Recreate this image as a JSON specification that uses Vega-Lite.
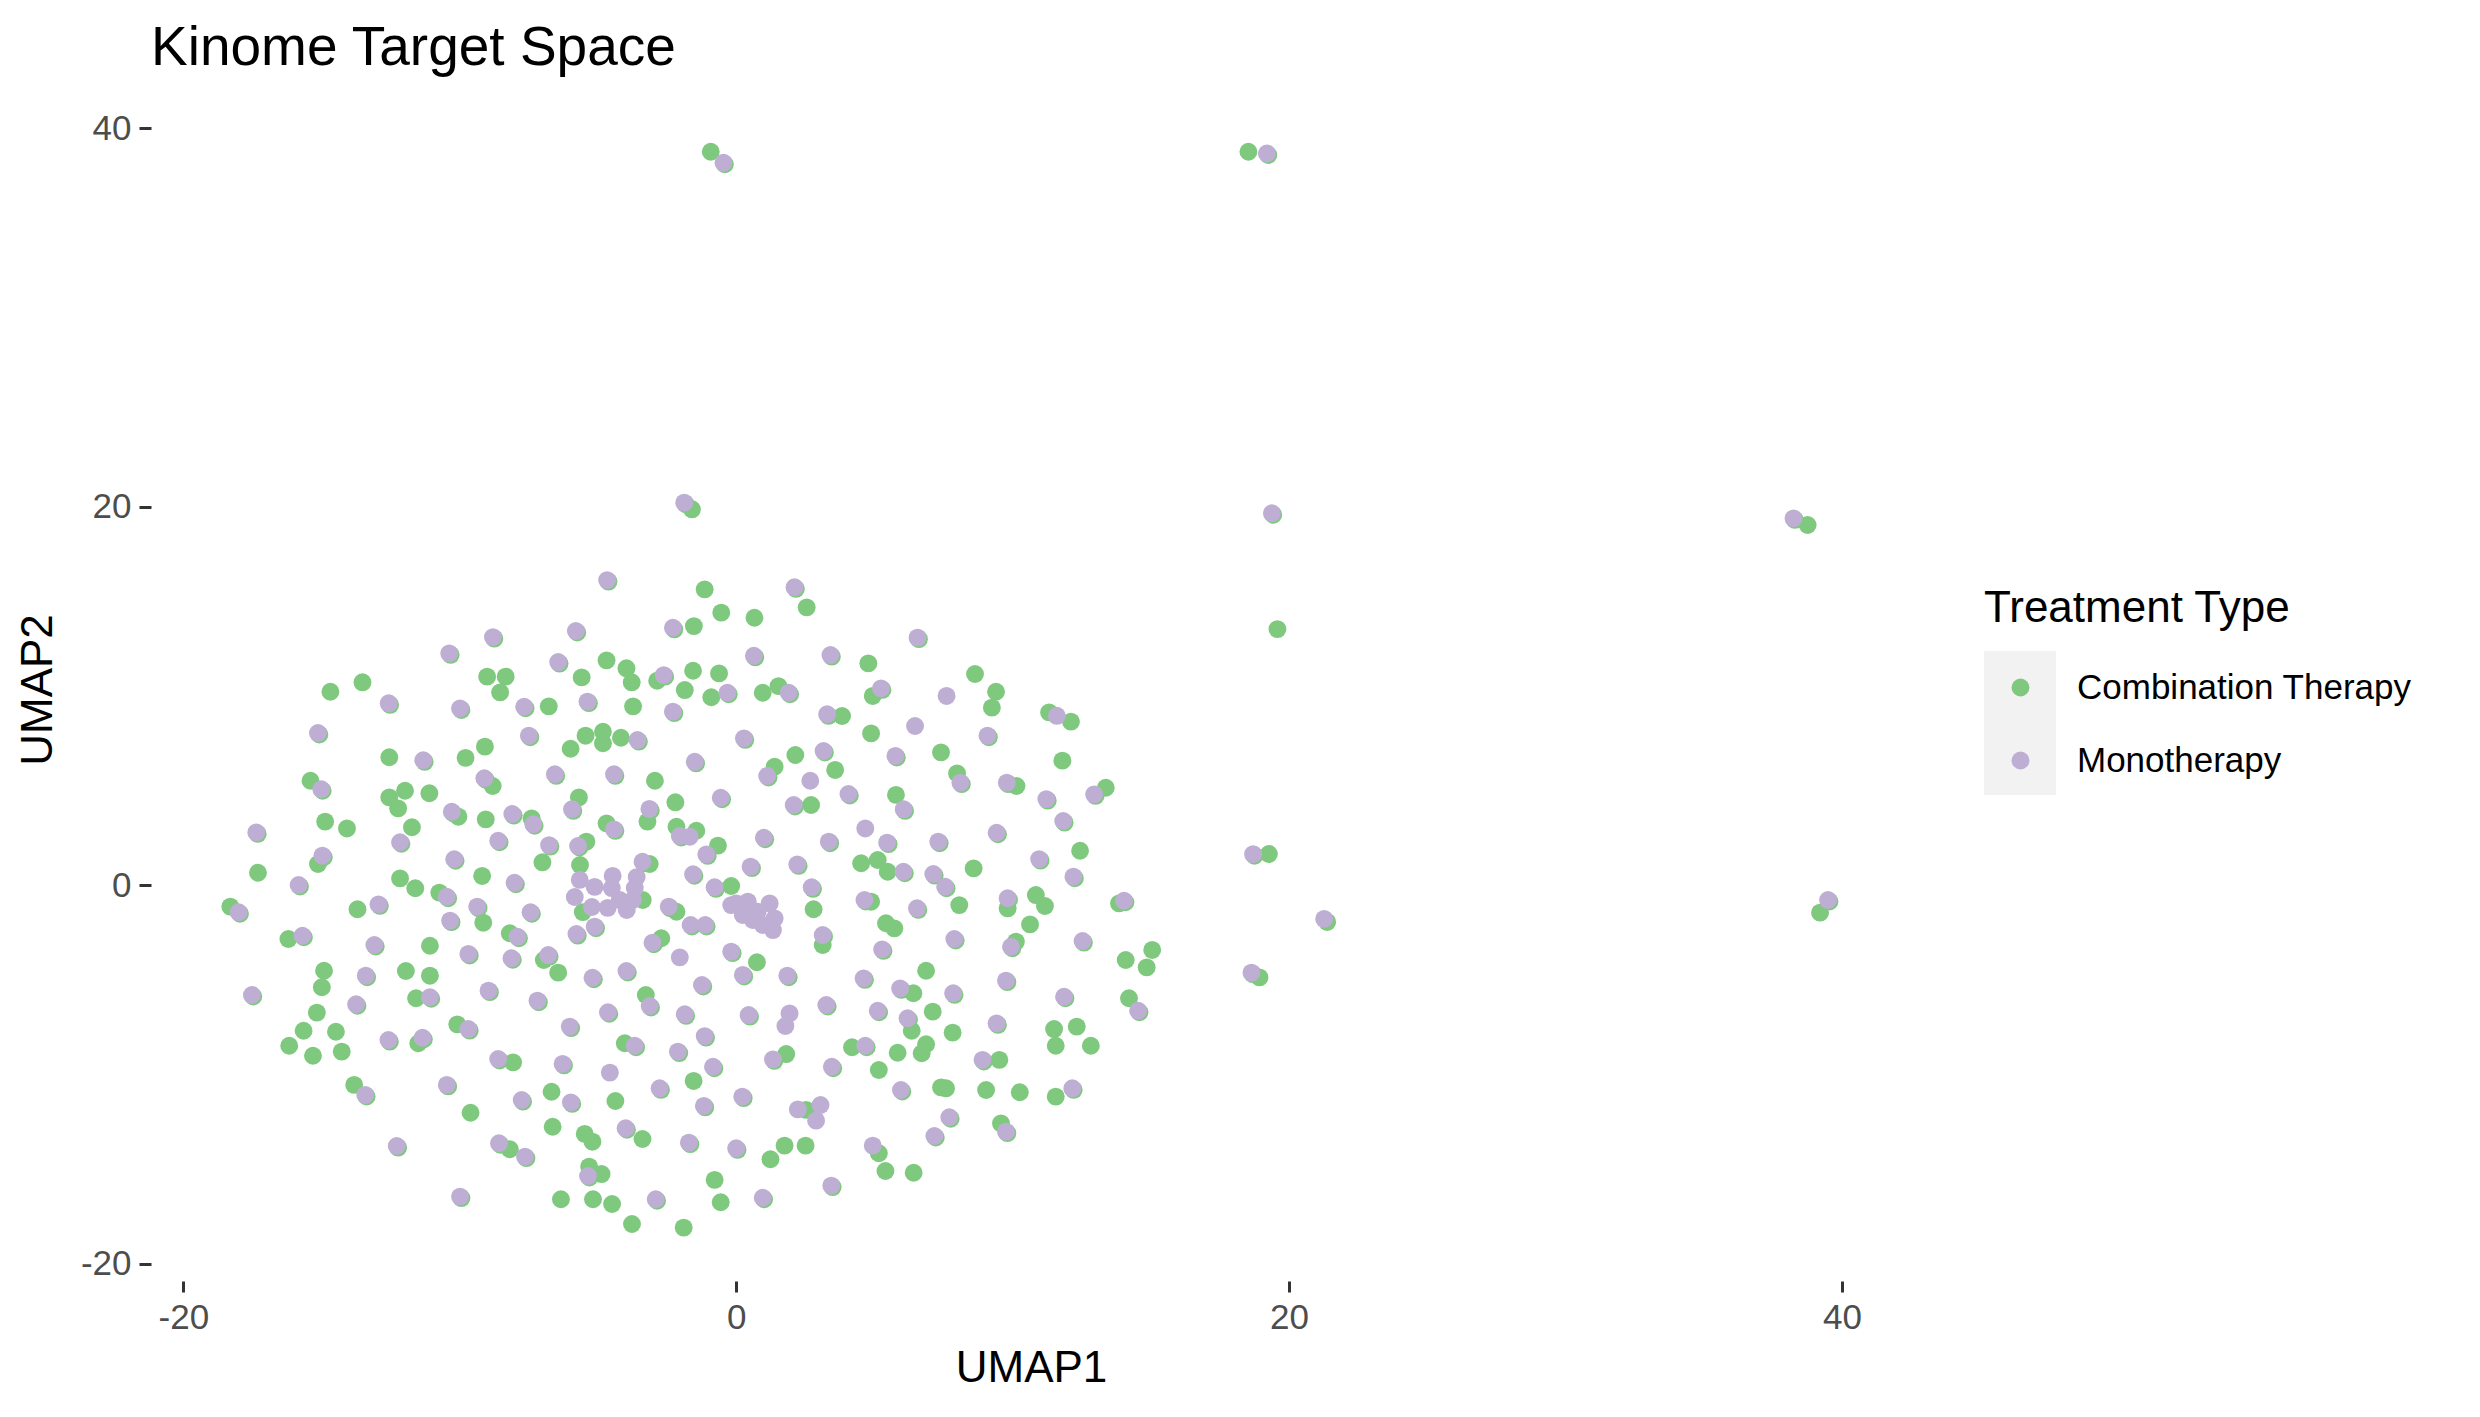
{
  "$schema": "https://vega.github.io/schema/vega-lite/v6.json",
  "autosize": {"type": "none"},
  "padding": {"left": 151, "top": 98, "right": 569, "bottom": 136},
  "width": 1760,
  "height": 1183,
  "background": "white",
  "config": {"view": {"stroke": null}, "font": "Liberation Sans"},
  "title": {"text": "Kinome Target Space", "anchor": "start", "frame": "group", "fontSize": 55, "fontWeight": "normal", "font": "Liberation Sans", "color": "black", "offset": 21},
  "layer": [
  {
  "data": {"values": [
{"UMAP1":-4.69,"UMAP2":11.89,"type":"Combination Therapy"},{"UMAP1":-3.97,"UMAP2":11.47,"type":"Combination Therapy"},{"UMAP1":-3.78,"UMAP2":10.73,"type":"Combination Therapy"},{"UMAP1":-2.86,"UMAP2":10.81,"type":"Combination Therapy"},{"UMAP1":-5.59,"UMAP2":10.99,"type":"Combination Therapy"},{"UMAP1":-9.01,"UMAP2":11.03,"type":"Combination Therapy"},{"UMAP1":-8.34,"UMAP2":11.03,"type":"Combination Therapy"},{"UMAP1":-8.54,"UMAP2":10.2,"type":"Combination Therapy"},{"UMAP1":-13.52,"UMAP2":10.73,"type":"Combination Therapy"},{"UMAP1":-14.68,"UMAP2":10.23,"type":"Combination Therapy"},{"UMAP1":-6.78,"UMAP2":9.46,"type":"Combination Therapy"},{"UMAP1":-3.73,"UMAP2":9.46,"type":"Combination Therapy"},{"UMAP1":-5.99,"UMAP2":7.22,"type":"Combination Therapy"},{"UMAP1":-5.45,"UMAP2":7.91,"type":"Combination Therapy"},{"UMAP1":-4.82,"UMAP2":8.12,"type":"Combination Therapy"},{"UMAP1":-4.82,"UMAP2":7.51,"type":"Combination Therapy"},{"UMAP1":-4.17,"UMAP2":7.8,"type":"Combination Therapy"},{"UMAP1":-12.55,"UMAP2":6.77,"type":"Combination Therapy"},{"UMAP1":-9.79,"UMAP2":6.74,"type":"Combination Therapy"},{"UMAP1":-9.09,"UMAP2":7.33,"type":"Combination Therapy"},{"UMAP1":-8.81,"UMAP2":5.25,"type":"Combination Therapy"},{"UMAP1":-2.94,"UMAP2":5.53,"type":"Combination Therapy"},{"UMAP1":-15.4,"UMAP2":5.53,"type":"Combination Therapy"},{"UMAP1":-12.55,"UMAP2":4.65,"type":"Combination Therapy"},{"UMAP1":-11.98,"UMAP2":5.0,"type":"Combination Therapy"},{"UMAP1":-12.23,"UMAP2":4.07,"type":"Combination Therapy"},{"UMAP1":-11.1,"UMAP2":4.87,"type":"Combination Therapy"},{"UMAP1":-10.05,"UMAP2":3.63,"type":"Combination Therapy"},{"UMAP1":-9.06,"UMAP2":3.49,"type":"Combination Therapy"},{"UMAP1":-5.69,"UMAP2":4.65,"type":"Combination Therapy"},{"UMAP1":-3.21,"UMAP2":3.37,"type":"Combination Therapy"},{"UMAP1":-4.69,"UMAP2":3.28,"type":"Combination Therapy"},{"UMAP1":-14.87,"UMAP2":3.37,"type":"Combination Therapy"},{"UMAP1":-14.08,"UMAP2":3.01,"type":"Combination Therapy"},{"UMAP1":-11.73,"UMAP2":3.07,"type":"Combination Therapy"},{"UMAP1":-5.42,"UMAP2":2.31,"type":"Combination Therapy"},{"UMAP1":-15.13,"UMAP2":1.13,"type":"Combination Therapy"},{"UMAP1":-7.01,"UMAP2":1.22,"type":"Combination Therapy"},{"UMAP1":-5.65,"UMAP2":1.08,"type":"Combination Therapy"},{"UMAP1":-3.13,"UMAP2":1.13,"type":"Combination Therapy"},{"UMAP1":-17.3,"UMAP2":0.67,"type":"Combination Therapy"},{"UMAP1":-12.16,"UMAP2":0.37,"type":"Combination Therapy"},{"UMAP1":-9.19,"UMAP2":0.5,"type":"Combination Therapy"},{"UMAP1":-7.4,"UMAP2":3.54,"type":"Combination Therapy"},
{"UMAP1":-11.61,"UMAP2":-0.15,"type":"Combination Therapy"},{"UMAP1":-18.3,"UMAP2":-1.12,"type":"Combination Therapy"},{"UMAP1":-13.7,"UMAP2":-1.26,"type":"Combination Therapy"},{"UMAP1":-10.74,"UMAP2":-0.38,"type":"Combination Therapy"},{"UMAP1":-9.15,"UMAP2":-1.97,"type":"Combination Therapy"},{"UMAP1":-16.2,"UMAP2":-2.83,"type":"Combination Therapy"},{"UMAP1":-11.08,"UMAP2":-3.19,"type":"Combination Therapy"},{"UMAP1":-8.19,"UMAP2":-2.53,"type":"Combination Therapy"},{"UMAP1":-6.44,"UMAP2":-4.61,"type":"Combination Therapy"},{"UMAP1":-6.96,"UMAP2":-3.94,"type":"Combination Therapy"},{"UMAP1":-2.71,"UMAP2":-2.79,"type":"Combination Therapy"},{"UMAP1":-14.91,"UMAP2":-4.51,"type":"Combination Therapy"},{"UMAP1":-14.99,"UMAP2":-5.38,"type":"Combination Therapy"},{"UMAP1":-11.95,"UMAP2":-4.52,"type":"Combination Therapy"},{"UMAP1":-11.08,"UMAP2":-4.77,"type":"Combination Therapy"},{"UMAP1":-11.58,"UMAP2":-5.96,"type":"Combination Therapy"},{"UMAP1":-3.27,"UMAP2":-5.79,"type":"Combination Therapy"},{"UMAP1":-15.17,"UMAP2":-6.72,"type":"Combination Therapy"},{"UMAP1":-15.65,"UMAP2":-7.68,"type":"Combination Therapy"},{"UMAP1":-14.48,"UMAP2":-7.73,"type":"Combination Therapy"},{"UMAP1":-16.17,"UMAP2":-8.47,"type":"Combination Therapy"},{"UMAP1":-15.31,"UMAP2":-9.0,"type":"Combination Therapy"},{"UMAP1":-14.27,"UMAP2":-8.78,"type":"Combination Therapy"},{"UMAP1":-10.09,"UMAP2":-7.34,"type":"Combination Therapy"},{"UMAP1":-8.07,"UMAP2":-9.35,"type":"Combination Therapy"},{"UMAP1":-4.03,"UMAP2":-8.34,"type":"Combination Therapy"},{"UMAP1":-13.82,"UMAP2":-10.54,"type":"Combination Therapy"},{"UMAP1":-6.68,"UMAP2":-10.9,"type":"Combination Therapy"},{"UMAP1":-4.37,"UMAP2":-11.39,"type":"Combination Therapy"},{"UMAP1":-9.61,"UMAP2":-12.01,"type":"Combination Therapy"},{"UMAP1":-6.64,"UMAP2":-12.75,"type":"Combination Therapy"},{"UMAP1":-5.48,"UMAP2":-13.13,"type":"Combination Therapy"},{"UMAP1":-5.2,"UMAP2":-13.54,"type":"Combination Therapy"},{"UMAP1":-3.39,"UMAP2":-13.4,"type":"Combination Therapy"},{"UMAP1":-8.19,"UMAP2":-13.94,"type":"Combination Therapy"},{"UMAP1":-5.32,"UMAP2":-14.86,"type":"Combination Therapy"},{"UMAP1":-4.87,"UMAP2":-15.25,"type":"Combination Therapy"},{"UMAP1":-6.34,"UMAP2":-16.58,"type":"Combination Therapy"},{"UMAP1":-5.18,"UMAP2":-16.58,"type":"Combination Therapy"},{"UMAP1":-4.49,"UMAP2":-16.83,"type":"Combination Therapy"},{"UMAP1":-3.77,"UMAP2":-17.89,"type":"Combination Therapy"},{"UMAP1":-11.5,"UMAP2":-8.34,"type":"Combination Therapy"},{"UMAP1":-5.55,"UMAP2":-1.41,"type":"Combination Therapy"},{"UMAP1":-3.38,"UMAP2":-0.77,"type":"Combination Therapy"},
{"UMAP1":-2.16,"UMAP2":-1.39,"type":"Combination Therapy"},{"UMAP1":-0.18,"UMAP2":-0.03,"type":"Combination Therapy"},{"UMAP1":0.75,"UMAP2":-4.06,"type":"Combination Therapy"},{"UMAP1":2.8,"UMAP2":-1.26,"type":"Combination Therapy"},{"UMAP1":3.13,"UMAP2":-3.15,"type":"Combination Therapy"},{"UMAP1":5.42,"UMAP2":-2.0,"type":"Combination Therapy"},{"UMAP1":5.72,"UMAP2":-2.27,"type":"Combination Therapy"},{"UMAP1":8.07,"UMAP2":-1.04,"type":"Combination Therapy"},{"UMAP1":9.82,"UMAP2":-1.21,"type":"Combination Therapy"},{"UMAP1":10.84,"UMAP2":-0.51,"type":"Combination Therapy"},{"UMAP1":11.17,"UMAP2":-1.09,"type":"Combination Therapy"},{"UMAP1":10.63,"UMAP2":-2.06,"type":"Combination Therapy"},{"UMAP1":15.05,"UMAP2":-3.41,"type":"Combination Therapy"},{"UMAP1":14.09,"UMAP2":-3.94,"type":"Combination Therapy"},{"UMAP1":14.85,"UMAP2":-4.33,"type":"Combination Therapy"},{"UMAP1":14.21,"UMAP2":-5.96,"type":"Combination Therapy"},{"UMAP1":6.87,"UMAP2":-4.51,"type":"Combination Therapy"},{"UMAP1":6.41,"UMAP2":-5.7,"type":"Combination Therapy"},{"UMAP1":6.35,"UMAP2":-7.68,"type":"Combination Therapy"},{"UMAP1":7.11,"UMAP2":-6.67,"type":"Combination Therapy"},{"UMAP1":7.83,"UMAP2":-7.78,"type":"Combination Therapy"},{"UMAP1":11.5,"UMAP2":-7.59,"type":"Combination Therapy"},{"UMAP1":11.56,"UMAP2":-8.47,"type":"Combination Therapy"},{"UMAP1":12.32,"UMAP2":-7.46,"type":"Combination Therapy"},{"UMAP1":12.83,"UMAP2":-8.47,"type":"Combination Therapy"},{"UMAP1":-1.54,"UMAP2":-10.33,"type":"Combination Therapy"},{"UMAP1":1.81,"UMAP2":-8.91,"type":"Combination Therapy"},{"UMAP1":4.19,"UMAP2":-8.55,"type":"Combination Therapy"},{"UMAP1":5.84,"UMAP2":-8.84,"type":"Combination Therapy"},{"UMAP1":5.16,"UMAP2":-9.75,"type":"Combination Therapy"},{"UMAP1":6.87,"UMAP2":-8.39,"type":"Combination Therapy"},{"UMAP1":6.71,"UMAP2":-8.87,"type":"Combination Therapy"},{"UMAP1":9.52,"UMAP2":-9.22,"type":"Combination Therapy"},{"UMAP1":7.41,"UMAP2":-10.67,"type":"Combination Therapy"},{"UMAP1":7.59,"UMAP2":-10.72,"type":"Combination Therapy"},{"UMAP1":9.04,"UMAP2":-10.81,"type":"Combination Therapy"},{"UMAP1":10.26,"UMAP2":-10.93,"type":"Combination Therapy"},{"UMAP1":11.56,"UMAP2":-11.16,"type":"Combination Therapy"},{"UMAP1":2.53,"UMAP2":-11.86,"type":"Combination Therapy"},{"UMAP1":9.58,"UMAP2":-12.57,"type":"Combination Therapy"},{"UMAP1":1.75,"UMAP2":-13.75,"type":"Combination Therapy"},{"UMAP1":1.24,"UMAP2":-14.47,"type":"Combination Therapy"},{"UMAP1":2.51,"UMAP2":-13.75,"type":"Combination Therapy"},{"UMAP1":5.16,"UMAP2":-14.15,"type":"Combination Therapy"},{"UMAP1":5.4,"UMAP2":-15.09,"type":"Combination Therapy"},{"UMAP1":6.42,"UMAP2":-15.18,"type":"Combination Therapy"},{"UMAP1":-0.78,"UMAP2":-15.56,"type":"Combination Therapy"},{"UMAP1":-0.56,"UMAP2":-16.74,"type":"Combination Therapy"},{"UMAP1":-1.9,"UMAP2":-18.08,"type":"Combination Therapy"},{"UMAP1":10.12,"UMAP2":-2.97,"type":"Combination Therapy"},{"UMAP1":13.85,"UMAP2":-0.95,"type":"Combination Therapy"},{"UMAP1":4.88,"UMAP2":-0.86,"type":"Combination Therapy"},
{"UMAP1":-1.14,"UMAP2":15.64,"type":"Combination Therapy"},{"UMAP1":2.55,"UMAP2":14.69,"type":"Combination Therapy"},{"UMAP1":-0.54,"UMAP2":14.41,"type":"Combination Therapy"},{"UMAP1":0.66,"UMAP2":14.14,"type":"Combination Therapy"},{"UMAP1":-1.53,"UMAP2":13.7,"type":"Combination Therapy"},{"UMAP1":4.78,"UMAP2":11.73,"type":"Combination Therapy"},{"UMAP1":-1.56,"UMAP2":11.34,"type":"Combination Therapy"},{"UMAP1":-0.62,"UMAP2":11.2,"type":"Combination Therapy"},{"UMAP1":-1.86,"UMAP2":10.32,"type":"Combination Therapy"},{"UMAP1":-0.9,"UMAP2":9.94,"type":"Combination Therapy"},{"UMAP1":0.96,"UMAP2":10.18,"type":"Combination Therapy"},{"UMAP1":1.53,"UMAP2":10.53,"type":"Combination Therapy"},{"UMAP1":3.83,"UMAP2":8.95,"type":"Combination Therapy"},{"UMAP1":4.94,"UMAP2":10.01,"type":"Combination Therapy"},{"UMAP1":8.64,"UMAP2":11.17,"type":"Combination Therapy"},{"UMAP1":9.4,"UMAP2":10.23,"type":"Combination Therapy"},{"UMAP1":9.25,"UMAP2":9.39,"type":"Combination Therapy"},{"UMAP1":11.32,"UMAP2":9.14,"type":"Combination Therapy"},{"UMAP1":12.11,"UMAP2":8.65,"type":"Combination Therapy"},{"UMAP1":4.88,"UMAP2":8.03,"type":"Combination Therapy"},{"UMAP1":2.14,"UMAP2":6.89,"type":"Combination Therapy"},{"UMAP1":1.39,"UMAP2":6.27,"type":"Combination Therapy"},{"UMAP1":3.58,"UMAP2":6.1,"type":"Combination Therapy"},{"UMAP1":7.41,"UMAP2":7.03,"type":"Combination Therapy"},{"UMAP1":11.8,"UMAP2":6.59,"type":"Combination Therapy"},{"UMAP1":7.99,"UMAP2":5.92,"type":"Combination Therapy"},{"UMAP1":10.14,"UMAP2":5.25,"type":"Combination Therapy"},{"UMAP1":13.37,"UMAP2":5.16,"type":"Combination Therapy"},{"UMAP1":-2.2,"UMAP2":4.39,"type":"Combination Therapy"},{"UMAP1":2.71,"UMAP2":4.25,"type":"Combination Therapy"},{"UMAP1":5.78,"UMAP2":4.78,"type":"Combination Therapy"},{"UMAP1":-2.16,"UMAP2":3.1,"type":"Combination Therapy"},{"UMAP1":-1.44,"UMAP2":2.89,"type":"Combination Therapy"},{"UMAP1":-0.66,"UMAP2":2.1,"type":"Combination Therapy"},{"UMAP1":4.52,"UMAP2":1.17,"type":"Combination Therapy"},{"UMAP1":5.12,"UMAP2":1.34,"type":"Combination Therapy"},{"UMAP1":5.48,"UMAP2":0.72,"type":"Combination Therapy"},{"UMAP1":12.44,"UMAP2":1.83,"type":"Combination Therapy"},{"UMAP1":8.59,"UMAP2":0.9,"type":"Combination Therapy"},
{"UMAP1":-0.92,"UMAP2":38.76,"type":"Combination Therapy"},{"UMAP1":-0.41,"UMAP2":38.1,"type":"Combination Therapy"},{"UMAP1":18.53,"UMAP2":38.76,"type":"Combination Therapy"},{"UMAP1":19.25,"UMAP2":38.59,"type":"Combination Therapy"},{"UMAP1":-1.6,"UMAP2":19.87,"type":"Combination Therapy"},{"UMAP1":-1.83,"UMAP2":20.14,"type":"Combination Therapy"},{"UMAP1":19.43,"UMAP2":19.58,"type":"Combination Therapy"},{"UMAP1":38.76,"UMAP2":19.04,"type":"Combination Therapy"},{"UMAP1":38.3,"UMAP2":19.31,"type":"Combination Therapy"},{"UMAP1":19.58,"UMAP2":13.54,"type":"Combination Therapy"},{"UMAP1":19.27,"UMAP2":1.66,"type":"Combination Therapy"},{"UMAP1":18.75,"UMAP2":1.57,"type":"Combination Therapy"},{"UMAP1":21.38,"UMAP2":-1.93,"type":"Combination Therapy"},{"UMAP1":39.21,"UMAP2":-1.44,"type":"Combination Therapy"},{"UMAP1":39.55,"UMAP2":-0.85,"type":"Combination Therapy"},{"UMAP1":18.93,"UMAP2":-4.86,"type":"Combination Therapy"},{"UMAP1":18.69,"UMAP2":-4.69,"type":"Combination Therapy"},
{"UMAP1":-4.62,"UMAP2":16.05,"type":"Combination Therapy"},{"UMAP1":-5.75,"UMAP2":13.36,"type":"Combination Therapy"},{"UMAP1":-8.75,"UMAP2":13.04,"type":"Combination Therapy"},{"UMAP1":-10.33,"UMAP2":12.18,"type":"Combination Therapy"},{"UMAP1":-6.39,"UMAP2":11.72,"type":"Combination Therapy"},{"UMAP1":-2.57,"UMAP2":11.03,"type":"Combination Therapy"},{"UMAP1":-12.52,"UMAP2":9.54,"type":"Combination Therapy"},{"UMAP1":-9.94,"UMAP2":9.27,"type":"Combination Therapy"},{"UMAP1":-7.62,"UMAP2":9.36,"type":"Combination Therapy"},{"UMAP1":-5.33,"UMAP2":9.63,"type":"Combination Therapy"},{"UMAP1":-15.08,"UMAP2":7.97,"type":"Combination Therapy"},{"UMAP1":-7.45,"UMAP2":7.83,"type":"Combination Therapy"},{"UMAP1":-3.52,"UMAP2":7.6,"type":"Combination Therapy"},{"UMAP1":-11.27,"UMAP2":6.53,"type":"Combination Therapy"},{"UMAP1":-9.06,"UMAP2":5.58,"type":"Combination Therapy"},{"UMAP1":-6.51,"UMAP2":5.79,"type":"Combination Therapy"},{"UMAP1":-4.37,"UMAP2":5.79,"type":"Combination Therapy"},{"UMAP1":-14.96,"UMAP2":5.0,"type":"Combination Therapy"},{"UMAP1":-10.24,"UMAP2":3.81,"type":"Combination Therapy"},{"UMAP1":-8.05,"UMAP2":3.69,"type":"Combination Therapy"},{"UMAP1":-7.29,"UMAP2":3.15,"type":"Combination Therapy"},{"UMAP1":-5.89,"UMAP2":3.94,"type":"Combination Therapy"},{"UMAP1":-3.09,"UMAP2":3.96,"type":"Combination Therapy"},{"UMAP1":-4.37,"UMAP2":2.88,"type":"Combination Therapy"},{"UMAP1":-17.31,"UMAP2":2.72,"type":"Combination Therapy"},{"UMAP1":-12.11,"UMAP2":2.2,"type":"Combination Therapy"},{"UMAP1":-8.56,"UMAP2":2.28,"type":"Combination Therapy"},{"UMAP1":-6.72,"UMAP2":2.05,"type":"Combination Therapy"},{"UMAP1":-5.67,"UMAP2":2.0,"type":"Combination Therapy"},{"UMAP1":-14.92,"UMAP2":1.49,"type":"Combination Therapy"},{"UMAP1":-10.15,"UMAP2":1.3,"type":"Combination Therapy"},{"UMAP1":-3.34,"UMAP2":1.17,"type":"Combination Therapy"},{"UMAP1":-7.97,"UMAP2":0.06,"type":"Combination Therapy"},
{"UMAP1":-15.78,"UMAP2":-0.06,"type":"Combination Therapy"},{"UMAP1":-17.95,"UMAP2":-1.5,"type":"Combination Therapy"},{"UMAP1":-12.89,"UMAP2":-1.08,"type":"Combination Therapy"},{"UMAP1":-10.42,"UMAP2":-0.68,"type":"Combination Therapy"},{"UMAP1":-9.32,"UMAP2":-1.2,"type":"Combination Therapy"},{"UMAP1":-10.3,"UMAP2":-1.94,"type":"Combination Therapy"},{"UMAP1":-7.39,"UMAP2":-1.5,"type":"Combination Therapy"},{"UMAP1":-15.64,"UMAP2":-2.74,"type":"Combination Therapy"},{"UMAP1":-13.04,"UMAP2":-3.23,"type":"Combination Therapy"},{"UMAP1":-9.64,"UMAP2":-3.7,"type":"Combination Therapy"},{"UMAP1":-7.86,"UMAP2":-2.79,"type":"Combination Therapy"},{"UMAP1":-8.08,"UMAP2":-3.93,"type":"Combination Therapy"},{"UMAP1":-6.75,"UMAP2":-3.76,"type":"Combination Therapy"},{"UMAP1":-5.73,"UMAP2":-2.65,"type":"Combination Therapy"},{"UMAP1":-5.07,"UMAP2":-2.26,"type":"Combination Therapy"},{"UMAP1":-5.15,"UMAP2":-4.96,"type":"Combination Therapy"},{"UMAP1":-3.92,"UMAP2":-4.6,"type":"Combination Therapy"},{"UMAP1":-2.98,"UMAP2":-3.11,"type":"Combination Therapy"},{"UMAP1":-13.35,"UMAP2":-4.85,"type":"Combination Therapy"},{"UMAP1":-17.47,"UMAP2":-5.87,"type":"Combination Therapy"},{"UMAP1":-13.7,"UMAP2":-6.36,"type":"Combination Therapy"},{"UMAP1":-11.03,"UMAP2":-5.99,"type":"Combination Therapy"},{"UMAP1":-8.91,"UMAP2":-5.64,"type":"Combination Therapy"},{"UMAP1":-7.14,"UMAP2":-6.17,"type":"Combination Therapy"},{"UMAP1":-4.59,"UMAP2":-6.78,"type":"Combination Therapy"},{"UMAP1":-3.08,"UMAP2":-6.45,"type":"Combination Therapy"},{"UMAP1":-12.53,"UMAP2":-8.25,"type":"Combination Therapy"},{"UMAP1":-11.3,"UMAP2":-8.13,"type":"Combination Therapy"},{"UMAP1":-9.64,"UMAP2":-7.67,"type":"Combination Therapy"},{"UMAP1":-5.97,"UMAP2":-7.54,"type":"Combination Therapy"},{"UMAP1":-8.56,"UMAP2":-9.25,"type":"Combination Therapy"},{"UMAP1":-6.23,"UMAP2":-9.51,"type":"Combination Therapy"},{"UMAP1":-3.62,"UMAP2":-8.55,"type":"Combination Therapy"},{"UMAP1":-13.37,"UMAP2":-11.15,"type":"Combination Therapy"},{"UMAP1":-10.42,"UMAP2":-10.62,"type":"Combination Therapy"},{"UMAP1":-7.71,"UMAP2":-11.42,"type":"Combination Therapy"},{"UMAP1":-5.93,"UMAP2":-11.54,"type":"Combination Therapy"},{"UMAP1":-2.72,"UMAP2":-10.8,"type":"Combination Therapy"},{"UMAP1":-3.95,"UMAP2":-12.91,"type":"Combination Therapy"},{"UMAP1":-8.53,"UMAP2":-13.7,"type":"Combination Therapy"},{"UMAP1":-7.59,"UMAP2":-14.41,"type":"Combination Therapy"},{"UMAP1":-12.23,"UMAP2":-13.85,"type":"Combination Therapy"},{"UMAP1":-5.31,"UMAP2":-15.43,"type":"Combination Therapy"},{"UMAP1":-9.94,"UMAP2":-16.52,"type":"Combination Therapy"},{"UMAP1":-2.86,"UMAP2":-16.66,"type":"Combination Therapy"},
{"UMAP1":-2.39,"UMAP2":-1.2,"type":"Combination Therapy"},{"UMAP1":-0.73,"UMAP2":-0.18,"type":"Combination Therapy"},{"UMAP1":-1.6,"UMAP2":-2.17,"type":"Combination Therapy"},{"UMAP1":-1.07,"UMAP2":-2.17,"type":"Combination Therapy"},{"UMAP1":-0.13,"UMAP2":-3.58,"type":"Combination Therapy"},{"UMAP1":0.29,"UMAP2":-4.81,"type":"Combination Therapy"},{"UMAP1":-1.19,"UMAP2":-5.34,"type":"Combination Therapy"},{"UMAP1":1.9,"UMAP2":-4.85,"type":"Combination Therapy"},{"UMAP1":2.78,"UMAP2":-0.18,"type":"Combination Therapy"},{"UMAP1":3.18,"UMAP2":-2.7,"type":"Combination Therapy"},{"UMAP1":4.69,"UMAP2":-0.85,"type":"Combination Therapy"},{"UMAP1":5.33,"UMAP2":-3.46,"type":"Combination Therapy"},{"UMAP1":6.59,"UMAP2":-1.29,"type":"Combination Therapy"},{"UMAP1":7.61,"UMAP2":-0.15,"type":"Combination Therapy"},{"UMAP1":7.94,"UMAP2":-2.91,"type":"Combination Therapy"},{"UMAP1":9.87,"UMAP2":-0.76,"type":"Combination Therapy"},{"UMAP1":9.99,"UMAP2":-3.32,"type":"Combination Therapy"},{"UMAP1":12.58,"UMAP2":-3.02,"type":"Combination Therapy"},{"UMAP1":14.08,"UMAP2":-0.89,"type":"Combination Therapy"},{"UMAP1":14.59,"UMAP2":-6.7,"type":"Combination Therapy"},{"UMAP1":11.91,"UMAP2":-5.96,"type":"Combination Therapy"},{"UMAP1":9.81,"UMAP2":-5.11,"type":"Combination Therapy"},{"UMAP1":4.66,"UMAP2":-4.99,"type":"Combination Therapy"},{"UMAP1":5.98,"UMAP2":-5.52,"type":"Combination Therapy"},{"UMAP1":7.9,"UMAP2":-5.78,"type":"Combination Therapy"},{"UMAP1":3.31,"UMAP2":-6.4,"type":"Combination Therapy"},{"UMAP1":5.17,"UMAP2":-6.7,"type":"Combination Therapy"},{"UMAP1":6.25,"UMAP2":-7.1,"type":"Combination Therapy"},{"UMAP1":9.47,"UMAP2":-7.37,"type":"Combination Therapy"},{"UMAP1":-1.81,"UMAP2":-6.89,"type":"Combination Therapy"},{"UMAP1":0.5,"UMAP2":-6.93,"type":"Combination Therapy"},{"UMAP1":-1.09,"UMAP2":-8.04,"type":"Combination Therapy"},{"UMAP1":-2.06,"UMAP2":-8.86,"type":"Combination Therapy"},{"UMAP1":-0.79,"UMAP2":-9.66,"type":"Combination Therapy"},{"UMAP1":1.38,"UMAP2":-9.27,"type":"Combination Therapy"},{"UMAP1":3.51,"UMAP2":-9.66,"type":"Combination Therapy"},{"UMAP1":4.72,"UMAP2":-8.55,"type":"Combination Therapy"},{"UMAP1":8.96,"UMAP2":-9.3,"type":"Combination Therapy"},{"UMAP1":6.01,"UMAP2":-10.89,"type":"Combination Therapy"},{"UMAP1":12.21,"UMAP2":-10.8,"type":"Combination Therapy"},{"UMAP1":0.27,"UMAP2":-11.24,"type":"Combination Therapy"},{"UMAP1":-1.12,"UMAP2":-11.73,"type":"Combination Therapy"},{"UMAP1":7.76,"UMAP2":-12.33,"type":"Combination Therapy"},{"UMAP1":7.22,"UMAP2":-13.32,"type":"Combination Therapy"},{"UMAP1":9.81,"UMAP2":-13.09,"type":"Combination Therapy"},{"UMAP1":-1.66,"UMAP2":-13.67,"type":"Combination Therapy"},{"UMAP1":0.05,"UMAP2":-13.97,"type":"Combination Therapy"},{"UMAP1":1.01,"UMAP2":-16.58,"type":"Combination Therapy"},{"UMAP1":3.49,"UMAP2":-15.94,"type":"Combination Therapy"},
{"UMAP1":2.16,"UMAP2":15.67,"type":"Combination Therapy"},{"UMAP1":-2.24,"UMAP2":13.53,"type":"Combination Therapy"},{"UMAP1":6.61,"UMAP2":13.01,"type":"Combination Therapy"},{"UMAP1":0.69,"UMAP2":12.05,"type":"Combination Therapy"},{"UMAP1":3.46,"UMAP2":12.09,"type":"Combination Therapy"},{"UMAP1":-0.27,"UMAP2":10.1,"type":"Combination Therapy"},{"UMAP1":1.95,"UMAP2":10.1,"type":"Combination Therapy"},{"UMAP1":-2.24,"UMAP2":9.1,"type":"Combination Therapy"},{"UMAP1":3.34,"UMAP2":8.96,"type":"Combination Therapy"},{"UMAP1":5.29,"UMAP2":10.33,"type":"Combination Therapy"},{"UMAP1":0.33,"UMAP2":7.69,"type":"Combination Therapy"},{"UMAP1":9.14,"UMAP2":7.83,"type":"Combination Therapy"},{"UMAP1":-1.45,"UMAP2":6.45,"type":"Combination Therapy"},{"UMAP1":3.21,"UMAP2":7.02,"type":"Combination Therapy"},{"UMAP1":1.17,"UMAP2":5.7,"type":"Combination Therapy"},{"UMAP1":5.81,"UMAP2":6.76,"type":"Combination Therapy"},{"UMAP1":8.16,"UMAP2":5.35,"type":"Combination Therapy"},{"UMAP1":9.84,"UMAP2":5.35,"type":"Combination Therapy"},{"UMAP1":11.27,"UMAP2":4.48,"type":"Combination Therapy"},{"UMAP1":13.0,"UMAP2":4.73,"type":"Combination Therapy"},{"UMAP1":-0.51,"UMAP2":4.55,"type":"Combination Therapy"},{"UMAP1":2.13,"UMAP2":4.17,"type":"Combination Therapy"},{"UMAP1":4.11,"UMAP2":4.75,"type":"Combination Therapy"},{"UMAP1":6.11,"UMAP2":3.94,"type":"Combination Therapy"},{"UMAP1":11.88,"UMAP2":3.32,"type":"Combination Therapy"},{"UMAP1":-1.99,"UMAP2":2.53,"type":"Combination Therapy"},{"UMAP1":-1.03,"UMAP2":1.56,"type":"Combination Therapy"},{"UMAP1":-1.51,"UMAP2":0.51,"type":"Combination Therapy"},{"UMAP1":1.05,"UMAP2":2.44,"type":"Combination Therapy"},{"UMAP1":0.57,"UMAP2":0.91,"type":"Combination Therapy"},{"UMAP1":2.26,"UMAP2":1.03,"type":"Combination Therapy"},{"UMAP1":3.4,"UMAP2":2.23,"type":"Combination Therapy"},{"UMAP1":5.51,"UMAP2":2.18,"type":"Combination Therapy"},{"UMAP1":6.1,"UMAP2":0.64,"type":"Combination Therapy"},{"UMAP1":7.36,"UMAP2":2.23,"type":"Combination Therapy"},{"UMAP1":9.47,"UMAP2":2.7,"type":"Combination Therapy"},{"UMAP1":11.01,"UMAP2":1.31,"type":"Combination Therapy"},{"UMAP1":12.25,"UMAP2":0.38,"type":"Combination Therapy"},{"UMAP1":7.18,"UMAP2":0.52,"type":"Combination Therapy"},
{"UMAP1":-4.67,"UMAP2":16.13,"type":"Monotherapy"},{"UMAP1":-5.8,"UMAP2":13.44,"type":"Monotherapy"},{"UMAP1":-8.8,"UMAP2":13.12,"type":"Monotherapy"},{"UMAP1":-10.38,"UMAP2":12.26,"type":"Monotherapy"},{"UMAP1":-6.44,"UMAP2":11.8,"type":"Monotherapy"},{"UMAP1":-2.62,"UMAP2":11.11,"type":"Monotherapy"},{"UMAP1":-12.57,"UMAP2":9.62,"type":"Monotherapy"},{"UMAP1":-9.99,"UMAP2":9.35,"type":"Monotherapy"},{"UMAP1":-7.67,"UMAP2":9.44,"type":"Monotherapy"},{"UMAP1":-5.38,"UMAP2":9.71,"type":"Monotherapy"},{"UMAP1":-15.13,"UMAP2":8.05,"type":"Monotherapy"},{"UMAP1":-7.5,"UMAP2":7.91,"type":"Monotherapy"},{"UMAP1":-3.57,"UMAP2":7.68,"type":"Monotherapy"},{"UMAP1":-11.32,"UMAP2":6.61,"type":"Monotherapy"},{"UMAP1":-9.11,"UMAP2":5.66,"type":"Monotherapy"},{"UMAP1":-6.56,"UMAP2":5.87,"type":"Monotherapy"},{"UMAP1":-4.42,"UMAP2":5.87,"type":"Monotherapy"},{"UMAP1":-15.01,"UMAP2":5.08,"type":"Monotherapy"},{"UMAP1":-10.29,"UMAP2":3.89,"type":"Monotherapy"},{"UMAP1":-8.1,"UMAP2":3.77,"type":"Monotherapy"},{"UMAP1":-7.34,"UMAP2":3.23,"type":"Monotherapy"},{"UMAP1":-5.94,"UMAP2":4.02,"type":"Monotherapy"},{"UMAP1":-3.14,"UMAP2":4.04,"type":"Monotherapy"},{"UMAP1":-4.42,"UMAP2":2.96,"type":"Monotherapy"},{"UMAP1":-17.36,"UMAP2":2.8,"type":"Monotherapy"},{"UMAP1":-12.16,"UMAP2":2.28,"type":"Monotherapy"},{"UMAP1":-8.61,"UMAP2":2.36,"type":"Monotherapy"},{"UMAP1":-6.77,"UMAP2":2.13,"type":"Monotherapy"},{"UMAP1":-5.72,"UMAP2":2.08,"type":"Monotherapy"},{"UMAP1":-14.97,"UMAP2":1.57,"type":"Monotherapy"},{"UMAP1":-10.2,"UMAP2":1.38,"type":"Monotherapy"},{"UMAP1":-3.39,"UMAP2":1.25,"type":"Monotherapy"},{"UMAP1":-8.02,"UMAP2":0.14,"type":"Monotherapy"},
{"UMAP1":-15.83,"UMAP2":0.02,"type":"Monotherapy"},{"UMAP1":-18.0,"UMAP2":-1.42,"type":"Monotherapy"},{"UMAP1":-12.94,"UMAP2":-1.0,"type":"Monotherapy"},{"UMAP1":-10.47,"UMAP2":-0.6,"type":"Monotherapy"},{"UMAP1":-9.37,"UMAP2":-1.12,"type":"Monotherapy"},{"UMAP1":-10.35,"UMAP2":-1.86,"type":"Monotherapy"},{"UMAP1":-7.44,"UMAP2":-1.42,"type":"Monotherapy"},{"UMAP1":-15.69,"UMAP2":-2.66,"type":"Monotherapy"},{"UMAP1":-13.09,"UMAP2":-3.15,"type":"Monotherapy"},{"UMAP1":-9.69,"UMAP2":-3.62,"type":"Monotherapy"},{"UMAP1":-7.91,"UMAP2":-2.71,"type":"Monotherapy"},{"UMAP1":-8.13,"UMAP2":-3.85,"type":"Monotherapy"},{"UMAP1":-6.8,"UMAP2":-3.68,"type":"Monotherapy"},{"UMAP1":-5.78,"UMAP2":-2.57,"type":"Monotherapy"},{"UMAP1":-5.12,"UMAP2":-2.18,"type":"Monotherapy"},{"UMAP1":-5.2,"UMAP2":-4.88,"type":"Monotherapy"},{"UMAP1":-3.97,"UMAP2":-4.52,"type":"Monotherapy"},{"UMAP1":-3.03,"UMAP2":-3.03,"type":"Monotherapy"},{"UMAP1":-13.4,"UMAP2":-4.77,"type":"Monotherapy"},{"UMAP1":-17.52,"UMAP2":-5.79,"type":"Monotherapy"},{"UMAP1":-13.75,"UMAP2":-6.28,"type":"Monotherapy"},{"UMAP1":-11.08,"UMAP2":-5.91,"type":"Monotherapy"},{"UMAP1":-8.96,"UMAP2":-5.56,"type":"Monotherapy"},{"UMAP1":-7.19,"UMAP2":-6.09,"type":"Monotherapy"},{"UMAP1":-4.64,"UMAP2":-6.7,"type":"Monotherapy"},{"UMAP1":-3.13,"UMAP2":-6.37,"type":"Monotherapy"},{"UMAP1":-12.58,"UMAP2":-8.17,"type":"Monotherapy"},{"UMAP1":-11.35,"UMAP2":-8.05,"type":"Monotherapy"},{"UMAP1":-9.69,"UMAP2":-7.59,"type":"Monotherapy"},{"UMAP1":-6.02,"UMAP2":-7.46,"type":"Monotherapy"},{"UMAP1":-8.61,"UMAP2":-9.17,"type":"Monotherapy"},{"UMAP1":-6.28,"UMAP2":-9.43,"type":"Monotherapy"},{"UMAP1":-3.67,"UMAP2":-8.47,"type":"Monotherapy"},{"UMAP1":-13.42,"UMAP2":-11.07,"type":"Monotherapy"},{"UMAP1":-10.47,"UMAP2":-10.54,"type":"Monotherapy"},{"UMAP1":-7.76,"UMAP2":-11.34,"type":"Monotherapy"},{"UMAP1":-5.98,"UMAP2":-11.46,"type":"Monotherapy"},{"UMAP1":-2.77,"UMAP2":-10.72,"type":"Monotherapy"},{"UMAP1":-4.0,"UMAP2":-12.83,"type":"Monotherapy"},{"UMAP1":-8.58,"UMAP2":-13.62,"type":"Monotherapy"},{"UMAP1":-7.64,"UMAP2":-14.33,"type":"Monotherapy"},{"UMAP1":-12.28,"UMAP2":-13.77,"type":"Monotherapy"},{"UMAP1":-5.36,"UMAP2":-15.35,"type":"Monotherapy"},{"UMAP1":-9.99,"UMAP2":-16.44,"type":"Monotherapy"},{"UMAP1":-2.91,"UMAP2":-16.58,"type":"Monotherapy"},{"UMAP1":-4.57,"UMAP2":-9.89,"type":"Monotherapy"},
{"UMAP1":-5.84,"UMAP2":-0.61,"type":"Monotherapy"},{"UMAP1":-5.22,"UMAP2":-1.14,"type":"Monotherapy"},{"UMAP1":-5.12,"UMAP2":-0.08,"type":"Monotherapy"},{"UMAP1":-4.5,"UMAP2":-0.14,"type":"Monotherapy"},{"UMAP1":-4.21,"UMAP2":-0.77,"type":"Monotherapy"},{"UMAP1":-4.65,"UMAP2":-1.19,"type":"Monotherapy"},{"UMAP1":-3.96,"UMAP2":-1.3,"type":"Monotherapy"},{"UMAP1":-3.67,"UMAP2":-0.14,"type":"Monotherapy"},{"UMAP1":-3.74,"UMAP2":-0.77,"type":"Monotherapy"},{"UMAP1":-5.66,"UMAP2":0.29,"type":"Monotherapy"},{"UMAP1":-4.47,"UMAP2":0.5,"type":"Monotherapy"},{"UMAP1":-3.6,"UMAP2":0.44,"type":"Monotherapy"},
{"UMAP1":-2.44,"UMAP2":-1.12,"type":"Monotherapy"},{"UMAP1":-0.78,"UMAP2":-0.1,"type":"Monotherapy"},{"UMAP1":0.0,"UMAP2":-0.95,"type":"Monotherapy"},{"UMAP1":0.42,"UMAP2":-0.86,"type":"Monotherapy"},{"UMAP1":0.24,"UMAP2":-1.56,"type":"Monotherapy"},{"UMAP1":0.78,"UMAP2":-1.39,"type":"Monotherapy"},{"UMAP1":1.21,"UMAP2":-0.95,"type":"Monotherapy"},{"UMAP1":1.39,"UMAP2":-1.74,"type":"Monotherapy"},{"UMAP1":0.96,"UMAP2":-2.09,"type":"Monotherapy"},{"UMAP1":1.33,"UMAP2":-2.36,"type":"Monotherapy"},{"UMAP1":0.6,"UMAP2":-1.83,"type":"Monotherapy"},{"UMAP1":-0.18,"UMAP2":-1.04,"type":"Monotherapy"},{"UMAP1":-1.65,"UMAP2":-2.09,"type":"Monotherapy"},{"UMAP1":-1.12,"UMAP2":-2.09,"type":"Monotherapy"},{"UMAP1":-2.04,"UMAP2":-3.8,"type":"Monotherapy"},{"UMAP1":-0.18,"UMAP2":-3.5,"type":"Monotherapy"},{"UMAP1":0.24,"UMAP2":-4.73,"type":"Monotherapy"},{"UMAP1":-1.24,"UMAP2":-5.26,"type":"Monotherapy"},{"UMAP1":1.85,"UMAP2":-4.77,"type":"Monotherapy"},{"UMAP1":2.73,"UMAP2":-0.1,"type":"Monotherapy"},{"UMAP1":3.13,"UMAP2":-2.62,"type":"Monotherapy"},{"UMAP1":4.64,"UMAP2":-0.77,"type":"Monotherapy"},{"UMAP1":5.28,"UMAP2":-3.38,"type":"Monotherapy"},{"UMAP1":6.54,"UMAP2":-1.21,"type":"Monotherapy"},{"UMAP1":7.56,"UMAP2":-0.07,"type":"Monotherapy"},{"UMAP1":7.89,"UMAP2":-2.83,"type":"Monotherapy"},{"UMAP1":9.82,"UMAP2":-0.68,"type":"Monotherapy"},{"UMAP1":9.94,"UMAP2":-3.24,"type":"Monotherapy"},{"UMAP1":12.53,"UMAP2":-2.94,"type":"Monotherapy"},{"UMAP1":14.03,"UMAP2":-0.81,"type":"Monotherapy"},{"UMAP1":14.54,"UMAP2":-6.62,"type":"Monotherapy"},{"UMAP1":11.86,"UMAP2":-5.88,"type":"Monotherapy"},{"UMAP1":9.76,"UMAP2":-5.03,"type":"Monotherapy"},{"UMAP1":4.61,"UMAP2":-4.91,"type":"Monotherapy"},{"UMAP1":5.93,"UMAP2":-5.44,"type":"Monotherapy"},{"UMAP1":7.85,"UMAP2":-5.7,"type":"Monotherapy"},{"UMAP1":3.26,"UMAP2":-6.32,"type":"Monotherapy"},{"UMAP1":5.12,"UMAP2":-6.62,"type":"Monotherapy"},{"UMAP1":6.2,"UMAP2":-7.02,"type":"Monotherapy"},{"UMAP1":9.42,"UMAP2":-7.29,"type":"Monotherapy"},{"UMAP1":-1.86,"UMAP2":-6.81,"type":"Monotherapy"},{"UMAP1":0.45,"UMAP2":-6.85,"type":"Monotherapy"},{"UMAP1":1.93,"UMAP2":-6.76,"type":"Monotherapy"},{"UMAP1":1.78,"UMAP2":-7.43,"type":"Monotherapy"},{"UMAP1":-1.14,"UMAP2":-7.96,"type":"Monotherapy"},{"UMAP1":-2.11,"UMAP2":-8.78,"type":"Monotherapy"},{"UMAP1":-0.84,"UMAP2":-9.58,"type":"Monotherapy"},{"UMAP1":1.33,"UMAP2":-9.19,"type":"Monotherapy"},{"UMAP1":3.46,"UMAP2":-9.58,"type":"Monotherapy"},{"UMAP1":4.67,"UMAP2":-8.47,"type":"Monotherapy"},{"UMAP1":8.91,"UMAP2":-9.22,"type":"Monotherapy"},{"UMAP1":5.96,"UMAP2":-10.81,"type":"Monotherapy"},{"UMAP1":12.16,"UMAP2":-10.72,"type":"Monotherapy"},{"UMAP1":0.22,"UMAP2":-11.16,"type":"Monotherapy"},{"UMAP1":-1.17,"UMAP2":-11.65,"type":"Monotherapy"},{"UMAP1":2.23,"UMAP2":-11.83,"type":"Monotherapy"},{"UMAP1":3.05,"UMAP2":-11.6,"type":"Monotherapy"},{"UMAP1":2.89,"UMAP2":-12.43,"type":"Monotherapy"},{"UMAP1":7.71,"UMAP2":-12.25,"type":"Monotherapy"},{"UMAP1":7.17,"UMAP2":-13.24,"type":"Monotherapy"},{"UMAP1":9.76,"UMAP2":-13.01,"type":"Monotherapy"},{"UMAP1":-1.71,"UMAP2":-13.59,"type":"Monotherapy"},{"UMAP1":0.0,"UMAP2":-13.89,"type":"Monotherapy"},{"UMAP1":4.94,"UMAP2":-13.75,"type":"Monotherapy"},{"UMAP1":0.96,"UMAP2":-16.5,"type":"Monotherapy"},{"UMAP1":3.44,"UMAP2":-15.86,"type":"Monotherapy"},
{"UMAP1":2.11,"UMAP2":15.75,"type":"Monotherapy"},{"UMAP1":-2.29,"UMAP2":13.61,"type":"Monotherapy"},{"UMAP1":6.56,"UMAP2":13.09,"type":"Monotherapy"},{"UMAP1":0.64,"UMAP2":12.13,"type":"Monotherapy"},{"UMAP1":3.41,"UMAP2":12.17,"type":"Monotherapy"},{"UMAP1":-0.32,"UMAP2":10.18,"type":"Monotherapy"},{"UMAP1":1.9,"UMAP2":10.18,"type":"Monotherapy"},{"UMAP1":-2.29,"UMAP2":9.18,"type":"Monotherapy"},{"UMAP1":3.29,"UMAP2":9.04,"type":"Monotherapy"},{"UMAP1":5.24,"UMAP2":10.41,"type":"Monotherapy"},{"UMAP1":7.61,"UMAP2":10.01,"type":"Monotherapy"},{"UMAP1":11.6,"UMAP2":8.96,"type":"Monotherapy"},{"UMAP1":0.28,"UMAP2":7.77,"type":"Monotherapy"},{"UMAP1":6.47,"UMAP2":8.42,"type":"Monotherapy"},{"UMAP1":9.09,"UMAP2":7.91,"type":"Monotherapy"},{"UMAP1":-1.5,"UMAP2":6.53,"type":"Monotherapy"},{"UMAP1":3.16,"UMAP2":7.1,"type":"Monotherapy"},{"UMAP1":1.12,"UMAP2":5.78,"type":"Monotherapy"},{"UMAP1":5.76,"UMAP2":6.84,"type":"Monotherapy"},{"UMAP1":8.11,"UMAP2":5.43,"type":"Monotherapy"},{"UMAP1":9.79,"UMAP2":5.43,"type":"Monotherapy"},{"UMAP1":11.22,"UMAP2":4.56,"type":"Monotherapy"},{"UMAP1":12.95,"UMAP2":4.81,"type":"Monotherapy"},{"UMAP1":2.68,"UMAP2":5.53,"type":"Monotherapy"},{"UMAP1":-0.56,"UMAP2":4.63,"type":"Monotherapy"},{"UMAP1":2.08,"UMAP2":4.25,"type":"Monotherapy"},{"UMAP1":4.06,"UMAP2":4.83,"type":"Monotherapy"},{"UMAP1":6.06,"UMAP2":4.02,"type":"Monotherapy"},{"UMAP1":11.83,"UMAP2":3.4,"type":"Monotherapy"},{"UMAP1":-2.04,"UMAP2":2.61,"type":"Monotherapy"},{"UMAP1":-1.68,"UMAP2":2.57,"type":"Monotherapy"},{"UMAP1":-1.08,"UMAP2":1.64,"type":"Monotherapy"},{"UMAP1":-1.56,"UMAP2":0.59,"type":"Monotherapy"},{"UMAP1":1.0,"UMAP2":2.52,"type":"Monotherapy"},{"UMAP1":0.52,"UMAP2":0.99,"type":"Monotherapy"},{"UMAP1":2.21,"UMAP2":1.11,"type":"Monotherapy"},{"UMAP1":3.35,"UMAP2":2.31,"type":"Monotherapy"},{"UMAP1":4.67,"UMAP2":3.01,"type":"Monotherapy"},{"UMAP1":5.46,"UMAP2":2.26,"type":"Monotherapy"},{"UMAP1":6.05,"UMAP2":0.72,"type":"Monotherapy"},{"UMAP1":7.31,"UMAP2":2.31,"type":"Monotherapy"},{"UMAP1":9.42,"UMAP2":2.78,"type":"Monotherapy"},{"UMAP1":10.96,"UMAP2":1.39,"type":"Monotherapy"},{"UMAP1":12.2,"UMAP2":0.46,"type":"Monotherapy"},{"UMAP1":7.13,"UMAP2":0.6,"type":"Monotherapy"},
{"UMAP1":-0.46,"UMAP2":38.18,"type":"Monotherapy"},{"UMAP1":19.2,"UMAP2":38.67,"type":"Monotherapy"},{"UMAP1":-1.88,"UMAP2":20.22,"type":"Monotherapy"},{"UMAP1":19.38,"UMAP2":19.66,"type":"Monotherapy"},{"UMAP1":38.25,"UMAP2":19.39,"type":"Monotherapy"},{"UMAP1":18.7,"UMAP2":1.65,"type":"Monotherapy"},{"UMAP1":21.27,"UMAP2":-1.77,"type":"Monotherapy"},{"UMAP1":39.5,"UMAP2":-0.77,"type":"Monotherapy"},{"UMAP1":18.64,"UMAP2":-4.61,"type":"Monotherapy"}
  ]},
  "mark": {"type": "circle", "size": 320, "opacity": 1, "strokeWidth": 0},
  "encoding": {
    "x": {"field": "UMAP1", "type": "quantitative", "scale": {"domain": [-21.17, 42.5], "nice": false, "zero": false},
      "axis": {"values": [-20, 0, 20, 40], "labelExpr": "'' + datum.value", "title": "UMAP1", "domain": false, "grid": false, "tickSize": 11, "tickWidth": 3, "tickColor": "#333333", "labelFont": "Liberation Sans", "labelFontSize": 35, "labelColor": "#4D4D4D", "labelPadding": 8, "titleFont": "Liberation Sans", "titleFontSize": 44, "titleFontWeight": "normal", "titleColor": "black", "titlePadding": 11}},
    "y": {"field": "UMAP2", "type": "quantitative", "scale": {"domain": [-20.9, 41.6], "nice": false, "zero": false},
      "axis": {"values": [-20, 0, 20, 40], "labelExpr": "'' + datum.value", "title": "UMAP2", "domain": false, "grid": false, "tickSize": 12, "tickWidth": 3, "tickColor": "#333333", "labelFont": "Liberation Sans", "labelFontSize": 35, "labelColor": "#4D4D4D", "labelPadding": 8, "titleFont": "Liberation Sans", "titleFontSize": 44, "titleFontWeight": "normal", "titleColor": "black", "titlePadding": 20}},
    "color": {"field": "type", "type": "nominal",
      "scale": {"domain": ["Combination Therapy", "Monotherapy"], "range": ["#7FC97F", "#BEAED4"]},
      "legend": {"title": "Treatment Type", "orient": "none", "legendX": 1833, "legendY": 489, "zindex": 2,
        "titleFont": "Liberation Sans", "titleFontSize": 44, "titleFontWeight": "normal", "titleColor": "black", "titlePadding": 39, "titleLimit": 0,
        "labelFont": "Liberation Sans", "labelFontSize": 35, "labelColor": "black", "labelLimit": 0,
        "symbolType": "circle", "symbolSize": 320, "symbolStrokeWidth": 0, "rowPadding": 37,
        "symbolOffset": 19, "labelOffset": 39}}
  }
  },
  {
    "data": {"values": [{"type": "Combination Therapy"}, {"type": "Monotherapy"}]},
    "mark": {"type": "point", "filled": true, "color": "#F2F2F2", "opacity": 0, "size": 1},
    "encoding": {
      "shape": {"field": "type", "type": "nominal",
        "scale": {"domain": ["Monotherapy", "Combination Therapy"], "range": ["square", "square"]},
        "legend": {"title": null, "orient": "none", "legendX": 1833, "legendY": 553, "zindex": 1,
          "symbolSize": 5184, "symbolFillColor": "#F2F2F2", "symbolStrokeWidth": 0, "symbolOpacity": 1,
          "rowPadding": 0, "labelOpacity": 0, "labelFontSize": 1, "labelOffset": 0}}
    }
  }
  ]
}
